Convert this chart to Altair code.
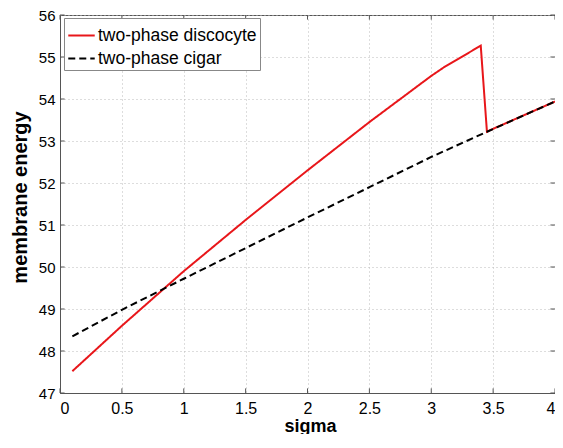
import altair as alt
import pandas as pd

# data
sigma_disc = [0.1, 0.5, 1.0, 1.5, 2.0, 2.5, 3.0, 3.1, 3.4, 3.45, 3.5, 4.0]
energy_disc = [47.52, 48.6, 49.9, 51.12, 52.3, 53.45, 54.55, 54.75, 55.27, 53.22, 53.29, 53.94]
sigma_cigar = [0.1, 0.5, 1.0, 1.5, 2.0, 2.5, 3.0, 3.45, 4.0]
energy_cigar = [48.35, 48.98, 49.72, 50.45, 51.18, 51.9, 52.62, 53.22, 53.94]
series_names = ["two-phase discocyte", "two-phase cigar"]
x_ticks = [0, 0.5, 1, 1.5, 2, 2.5, 3, 3.5, 4]
y_ticks = [47, 48, 49, 50, 51, 52, 53, 54, 55, 56]

df = pd.concat([
    pd.DataFrame({"sigma": sigma_disc, "energy": energy_disc, "series": series_names[0]}),
    pd.DataFrame({"sigma": sigma_cigar, "energy": energy_cigar, "series": series_names[1]}),
])

FONT = "Liberation Sans"

xscale = alt.Scale(domain=[0, 4], nice=False, zero=False)
yscale = alt.Scale(domain=[47, 56], nice=False, zero=False)

color = alt.Color("series:N",
                  scale=alt.Scale(domain=series_names, range=["#e8161a", "#000000"]),
                  legend=alt.Legend(title=None, orient="none", legendX=4, legendY=3,
                                    strokeColor="#888888", fillColor="white", padding=3,
                                    labelFont=FONT, labelFontSize=17.5, labelColor="black",
                                    labelLimit=400,
                                    symbolType="stroke", symbolSize=700, symbolStrokeWidth=2,
                                    labelOffset=2, rowPadding=0))
dash = alt.StrokeDash("series:N",
                      scale=alt.Scale(domain=series_names, range=[[1, 0], [7, 4]]),
                      legend=None)

xaxis = alt.Axis(values=x_ticks, format="~g", title="sigma", grid=True, ticks=False,
                 labelFont=FONT, labelFontSize=16, labelColor="black", labelPadding=7,
                 titleFont=FONT, titleFontSize=18, titleFontWeight="bold", titleColor="black",
                 titleX=250, titleY=33, titleBaseline="middle",
                 domainColor="#555555", gridColor="#bbbbbb", gridDash=[1, 3])
yaxis = alt.Axis(values=y_ticks, format="d", title="membrane energy", grid=True, ticks=False,
                 labelFont=FONT, labelFontSize=15, labelColor="black", labelPadding=5,
                 titleFont=FONT, titleFontSize=20, titleFontWeight="bold", titleColor="black",
                 titleX=-40, titleY=182, titleAngle=270, titleAlign="center", titleBaseline="middle",
                 domainColor="#555555", gridColor="#bbbbbb", gridDash=[1, 3])

base = alt.Chart(df)
red = base.transform_filter(alt.datum.series == series_names[0]).mark_line(strokeWidth=2).encode(
    x=alt.X("sigma:Q", scale=xscale, axis=xaxis),
    y=alt.Y("energy:Q", scale=yscale, axis=yaxis),
    color=color, strokeDash=dash, order="sigma:Q")
blk = base.transform_filter(alt.datum.series == series_names[1]).mark_line(strokeWidth=2).encode(
    x=alt.X("sigma:Q", scale=xscale),
    y=alt.Y("energy:Q", scale=yscale),
    color=color, strokeDash=dash, order="sigma:Q")

# inward tick marks (MATLAB style)
xt = pd.DataFrame({"t": x_ticks})
yt = pd.DataFrame({"t": y_ticks})
tk = "#555555"
bottom_ticks = alt.Chart(xt).mark_rule(color=tk).encode(
    x=alt.X("t:Q", scale=xscale), y=alt.datum(47, scale=yscale), y2=alt.datum(47.11))
top_ticks = alt.Chart(xt).mark_rule(color=tk).encode(
    x=alt.X("t:Q", scale=xscale), y=alt.datum(56, scale=yscale), y2=alt.datum(55.89))
left_ticks = alt.Chart(yt).mark_rule(color=tk).encode(
    y=alt.Y("t:Q", scale=yscale), x=alt.datum(0, scale=xscale), x2=alt.datum(0.037))
right_ticks = alt.Chart(yt).mark_rule(color=tk).encode(
    y=alt.Y("t:Q", scale=yscale), x=alt.datum(4, scale=xscale), x2=alt.datum(3.963))

chart = alt.layer(bottom_ticks, top_ticks, left_ticks, right_ticks, red, blk).properties(
    width=495, height=378,
    autosize=alt.AutoSizeParams(type="none"),
    padding={"left": 52, "top": 7, "right": 0, "bottom": 41},
    background="white",
).configure_view(stroke="#555555", strokeWidth=1)

chart.save("out.html", embed_options={"renderer": "svg", "actions": False})
